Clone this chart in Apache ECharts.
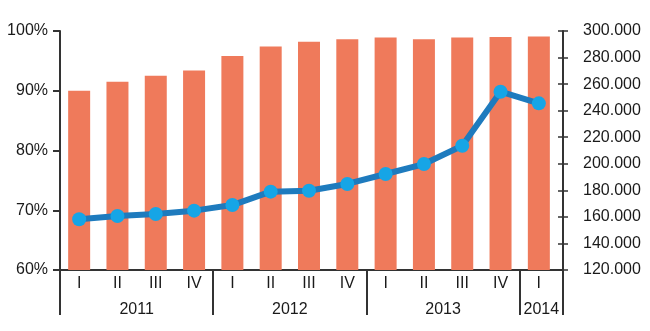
<!DOCTYPE html>
<html>
<head>
<meta charset="utf-8">
<script src="https://cdn.jsdelivr.net/npm/echarts@6/dist/echarts.min.js"></script>
<style>html,body{margin:0;padding:0;background:#fff}#c{width:650px;height:331px}</style>
</head>
<body>
<div id="c"></div>
<script>
var quarters = ['I','II','III','IV','I','II','III','IV','I','II','III','IV','I'];
var years = ['2011','2012','2013','2014'];
var yearCounts = [4,4,4,1];
var barValues = [90.0,91.5,92.5,93.4,95.8,97.4,98.2,98.6,98.9,98.6,98.9,99.0,99.1];
var lineValues = [158200,160700,162200,164700,168900,179000,179700,184800,192300,199800,213600,254300,245500];
var leftTicks = [60,70,80,90,100];
var rightTicks = [120000,140000,160000,180000,200000,220000,240000,260000,280000,300000];

var FONT = 'Liberation Sans';
var TXT = '#1a1a1a';
var AX = '#333';

var sepVals = [0], labVals = [], acc = 0;
yearCounts.forEach(function(n){ labVals.push(acc + n/2); acc += n; sepVals.push(acc); });
var yearMax = quarters.length * 503 / 498;
sepVals[sepVals.length-1] = yearMax;
labVals[labVals.length-1] = (quarters.length - 1 + yearMax) / 2;

var chart = echarts.init(document.getElementById('c'));
chart.setOption({
  animation: false,
  textStyle: {fontFamily: FONT},
  grid: [
    {left: 60, right: 92, top: 31, bottom: 61},
    {left: 60, right: 87, top: 31, bottom: 61}
  ],
  xAxis: [
    {
      type: 'category', gridIndex: 0, data: quarters,
      axisLine: {show: false}, axisTick: {show: false},
      axisLabel: {color: TXT, fontSize: 16, fontFamily: FONT, margin: 6, interval: 0}
    },
    {
      type: 'value', gridIndex: 1, min: 0, max: yearMax,
      splitLine: {show: false},
      axisLine: {show: true, lineStyle: {color: AX, width: 2}},
      axisTick: {show: true, customValues: sepVals, length: 45, lineStyle: {color: AX, width: 2}},
      axisLabel: {
        show: true, customValues: labVals, color: TXT, fontSize: 16, fontFamily: FONT, margin: 32,
        formatter: function(v){ for (var i=0;i<labVals.length;i++){ if (Math.abs(labVals[i]-v)<1e-6) return years[i]; } return ''; }
      }
    }
  ],
  yAxis: [
    {
      type: 'value', gridIndex: 0, min: leftTicks[0], max: leftTicks[leftTicks.length-1], interval: 10,
      splitLine: {show: false},
      axisLine: {show: true, lineStyle: {color: AX, width: 2}},
      axisTick: {show: true, length: 7, lineStyle: {color: AX, width: 2}},
      axisLabel: {color: TXT, fontSize: 16, fontFamily: FONT, margin: 12, formatter: '{value}%'}
    },
    {
      type: 'value', gridIndex: 0, position: 'right', offset: 5,
      min: rightTicks[0], max: rightTicks[rightTicks.length-1], interval: 20000,
      splitLine: {show: false},
      axisLine: {show: true, lineStyle: {color: AX, width: 2}},
      axisTick: {show: true, length: 5, lineStyle: {color: AX, width: 1.5}},
      axisLabel: {color: TXT, fontSize: 16, fontFamily: FONT, margin: 20,
        formatter: function(v){ return (v/1000).toFixed(0) + '.000'; }}
    },
    {
      type: 'value', gridIndex: 0, position: 'right', offset: 5,
      min: rightTicks[0], max: rightTicks[rightTicks.length-1], interval: 20000,
      splitLine: {show: false},
      axisLine: {show: false},
      axisTick: {show: true, inside: true, length: 5, lineStyle: {color: AX, width: 1.5}},
      axisLabel: {show: false}
    },
    {
      type: 'value', gridIndex: 1, show: false, min: 0, max: 1
    }
  ],
  series: [
    {
      type: 'bar', xAxisIndex: 0, yAxisIndex: 0, data: barValues,
      barWidth: 22, itemStyle: {color: '#EF7A5B'}, z: 2
    },
    {
      type: 'line', xAxisIndex: 0, yAxisIndex: 1, data: lineValues,
      symbol: 'circle', symbolSize: 14,
      lineStyle: {color: '#1E7BBE', width: 6},
      itemStyle: {color: '#16A5E6', borderWidth: 0},
      z: 5
    }
  ]
});
</script>
</body>
</html>
